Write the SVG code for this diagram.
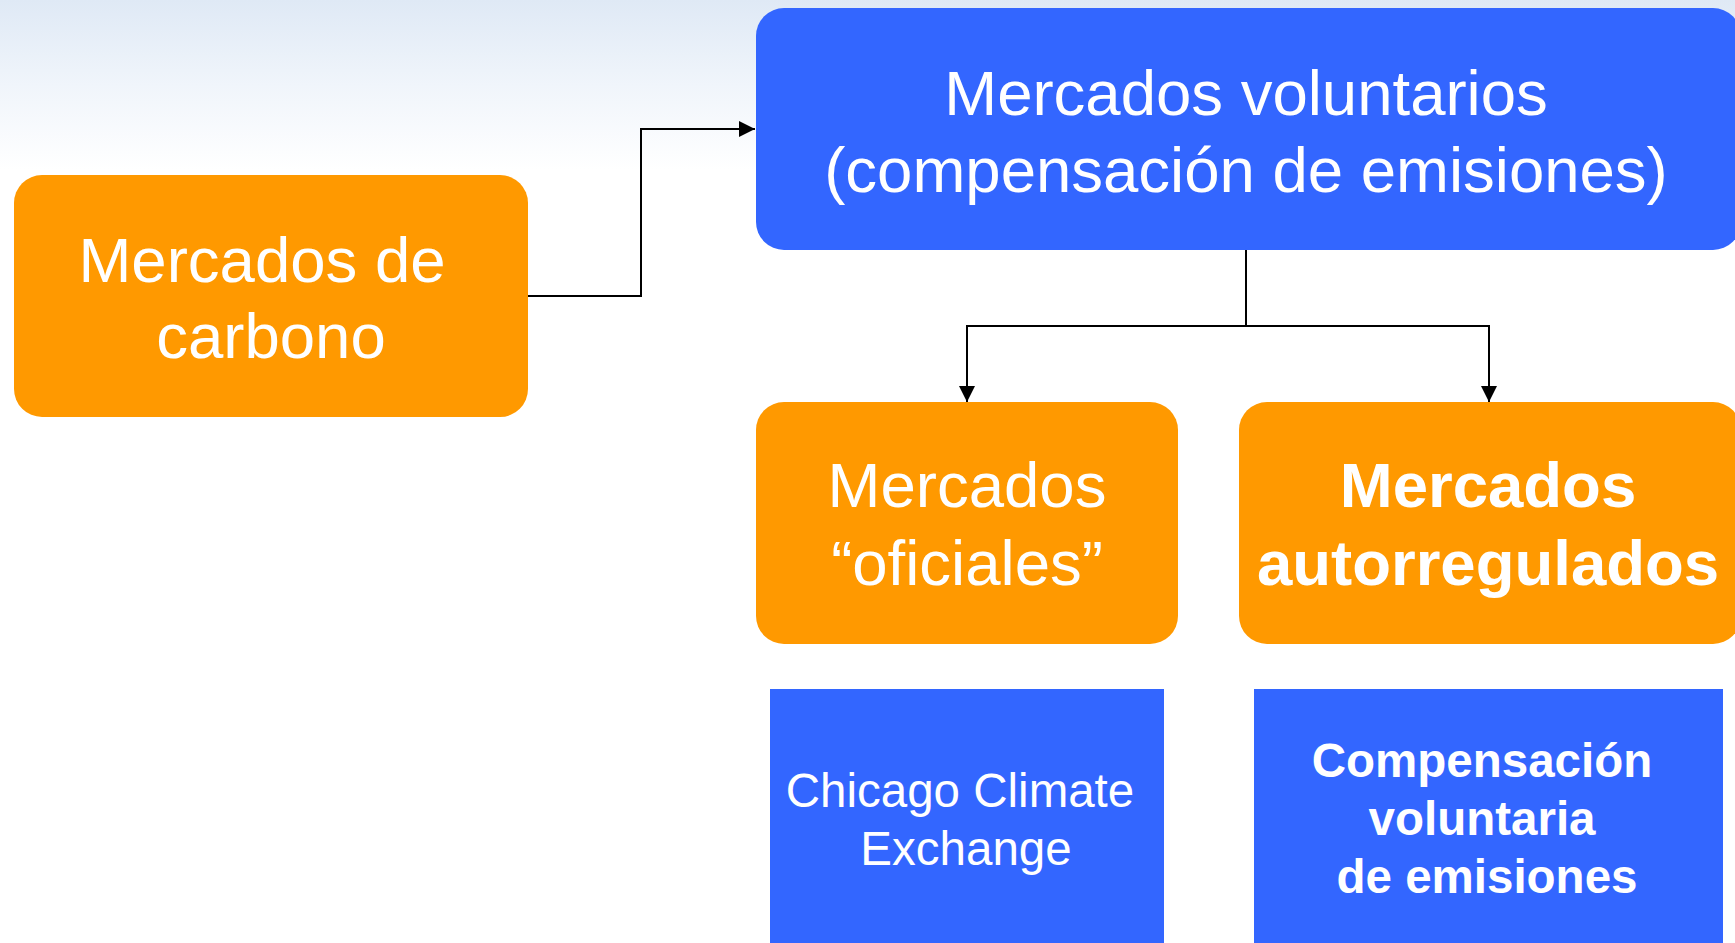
<svg xmlns="http://www.w3.org/2000/svg" width="1735" height="943" viewBox="0 0 1735 943">
<defs>
<linearGradient id="sky" x1="0" y1="0" x2="0" y2="1">
<stop offset="0" stop-color="#dfe9f5"/>
<stop offset="0.5" stop-color="#f0f5fb"/>
<stop offset="1" stop-color="#ffffff"/>
</linearGradient>
<marker id="arr" viewBox="0 0 10 10" refX="10" refY="5" markerWidth="16" markerHeight="16" markerUnits="userSpaceOnUse" orient="auto">
<path d="M0,0 L10,5 L0,10 z" fill="#000"/>
</marker>
<style>
.orange{fill:#ff9900}
.blue{fill:#3366ff}
.t{fill:#fff;font-family:"Liberation Sans",Arial,sans-serif;text-anchor:middle}
.big{font-size:63.5px}
.small{font-size:47.5px}
.b{font-weight:bold}
.c{fill:none;stroke:#000;stroke-width:2}
</style>
</defs>
<rect x="0" y="0" width="1735" height="943" fill="#fff"/>
<rect x="0" y="0" width="1735" height="170" fill="url(#sky)"/>
<g id="connectors">
<path class="c" d="M528,296 H641 V129 H755" marker-end="url(#arr)"/>
<path class="c" d="M1246,250 V326 H967 V402" marker-end="url(#arr)"/>
<path class="c" d="M1246,326 H1489 V402" marker-end="url(#arr)"/>
</g>
<g id="n1">
<rect class="orange" x="14" y="175" width="514" height="242" rx="28" ry="28"/>
<text class="t big" x="262" y="282">Mercados de</text>
<text class="t big" x="271" y="358">carbono</text>
</g>
<g id="n2">
<rect class="blue" x="756" y="8" width="985" height="242" rx="28" ry="28"/>
<text class="t big" x="1246" y="115">Mercados voluntarios</text>
<text class="t big" x="1246" y="192">(compensación de emisiones)</text>
</g>
<g id="n3">
<rect class="orange" x="756" y="402" width="422" height="242" rx="28" ry="28"/>
<text class="t big" x="967" y="507">Mercados</text>
<text class="t big" x="967" y="585">“oficiales”</text>
</g>
<g id="n4">
<rect class="orange" x="1239" y="402" width="502" height="242" rx="28" ry="28"/>
<text class="t big b" x="1488" y="507">Mercados</text>
<text class="t big b" x="1488" y="585">autorregulados</text>
</g>
<g id="n5">
<rect class="blue" x="770" y="689" width="394" height="260"/>
<text class="t small" x="960" y="807">Chicago Climate</text>
<text class="t small" x="966" y="865">Exchange</text>
</g>
<g id="n6">
<rect class="blue" x="1254" y="689" width="469" height="260"/>
<text class="t small b" x="1482" y="777">Compensación</text>
<text class="t small b" x="1482" y="835">voluntaria</text>
<text class="t small b" x="1487" y="893">de emisiones</text>
</g>
</svg>
